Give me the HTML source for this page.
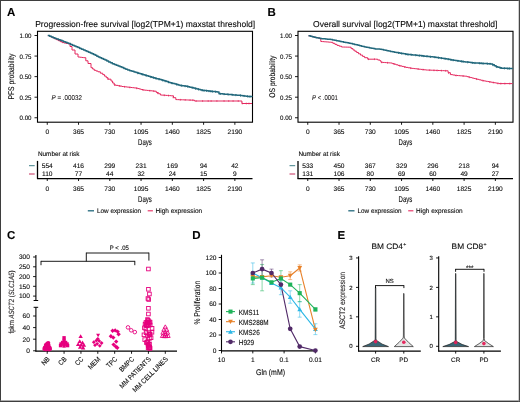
<!DOCTYPE html>
<html><head><meta charset="utf-8"><style>
html,body{margin:0;padding:0;background:#fff;}
body{width:520px;height:402px;overflow:hidden;}
svg{display:block;} text{stroke:#2a2a2a;stroke-width:0.12px;} svg{font-family:"Liberation Sans",sans-serif;will-change:transform;text-rendering:geometricPrecision;}
</style></head><body>
<svg width="520" height="402" viewBox="0 0 520 402">
<rect x="0" y="0" width="520" height="402" fill="#fff"/>
<text transform="translate(7.00 16.30)" font-size="11.5" font-weight="bold" fill="#000" >A</text>
<text transform="translate(35.20 26.90) scale(0.9893 1)" font-size="8.6" >Progression-free survival [log2(TPM+1) maxstat threshold]</text>
<rect x="37.50" y="31.30" width="215.00" height="90.90" fill="none" stroke="#000" stroke-width="1.1"/>
<line x1="34.50" y1="117.75" x2="37.50" y2="117.75" stroke="#000" stroke-width="0.9" />
<text transform="translate(31.50 120.35) scale(0.9486 1)" font-size="6.5" text-anchor="end" >0.00</text>
<line x1="34.50" y1="97.19" x2="37.50" y2="97.19" stroke="#000" stroke-width="0.9" />
<text transform="translate(31.50 99.79) scale(0.9486 1)" font-size="6.5" text-anchor="end" >0.25</text>
<line x1="34.50" y1="76.63" x2="37.50" y2="76.63" stroke="#000" stroke-width="0.9" />
<text transform="translate(31.50 79.23) scale(0.9486 1)" font-size="6.5" text-anchor="end" >0.50</text>
<line x1="34.50" y1="56.07" x2="37.50" y2="56.07" stroke="#000" stroke-width="0.9" />
<text transform="translate(31.50 58.67) scale(0.9486 1)" font-size="6.5" text-anchor="end" >0.75</text>
<line x1="34.50" y1="35.51" x2="37.50" y2="35.51" stroke="#000" stroke-width="0.9" />
<text transform="translate(31.50 38.11) scale(0.9486 1)" font-size="6.5" text-anchor="end" >1.00</text>
<line x1="47.25" y1="122.20" x2="47.25" y2="124.80" stroke="#000" stroke-width="0.9" />
<text transform="translate(47.25 133.60)" font-size="6.6" text-anchor="middle" >0</text>
<line x1="78.52" y1="122.20" x2="78.52" y2="124.80" stroke="#000" stroke-width="0.9" />
<text transform="translate(78.52 133.60)" font-size="6.6" text-anchor="middle" >365</text>
<line x1="109.79" y1="122.20" x2="109.79" y2="124.80" stroke="#000" stroke-width="0.9" />
<text transform="translate(109.79 133.60)" font-size="6.6" text-anchor="middle" >730</text>
<line x1="141.06" y1="122.20" x2="141.06" y2="124.80" stroke="#000" stroke-width="0.9" />
<text transform="translate(141.06 133.60)" font-size="6.6" text-anchor="middle" >1095</text>
<line x1="172.33" y1="122.20" x2="172.33" y2="124.80" stroke="#000" stroke-width="0.9" />
<text transform="translate(172.33 133.60)" font-size="6.6" text-anchor="middle" >1460</text>
<line x1="203.60" y1="122.20" x2="203.60" y2="124.80" stroke="#000" stroke-width="0.9" />
<text transform="translate(203.60 133.60)" font-size="6.6" text-anchor="middle" >1825</text>
<line x1="234.87" y1="122.20" x2="234.87" y2="124.80" stroke="#000" stroke-width="0.9" />
<text transform="translate(234.87 133.60)" font-size="6.6" text-anchor="middle" >2190</text>
<text transform="translate(145.00 145.20) scale(0.7211 1)" font-size="8.4" text-anchor="middle" >Days</text>
<text transform="translate(14.40 76.60) rotate(-90) scale(0.8273 1)" font-size="8.2" text-anchor="middle" >PFS probability</text>
<text x="51.60" y="100" font-size="7" textLength="30.3" lengthAdjust="spacingAndGlyphs" fill="#231f20"><tspan font-style="italic">P</tspan> = .00032</text>
<polyline points="47.80,35.60 49.90,35.60 49.90,36.60 52.00,36.60 52.00,37.60 54.00,37.60 54.00,38.60 56.00,38.60 56.00,39.60 58.00,39.60 58.00,40.60 60.00,40.60 60.00,41.60 62.00,41.60 62.00,42.60 64.00,42.60 64.00,43.00 66.00,43.00 66.00,43.40 68.00,43.40 68.00,43.80 70.00,43.80 70.00,46.50 72.00,46.50 72.00,50.00 75.00,50.00 75.00,54.00 78.00,54.00 78.00,57.00 79.83,57.00 79.83,57.23 81.67,57.23 81.67,57.47 83.50,57.47 83.50,57.70 85.80,57.70 85.80,60.80 88.00,60.80 88.00,63.50 91.00,63.50 91.00,67.70 92.60,67.70 92.60,69.00 94.20,69.00 94.20,70.30 96.10,70.30 96.10,71.05 98.00,71.05 98.00,71.80 100.35,71.80 100.35,73.20 102.70,73.20 102.70,74.60 104.47,74.60 104.47,76.13 106.23,76.13 106.23,77.67 108.00,77.67 108.00,79.20 111.00,79.20 111.00,81.00 112.60,81.00 112.60,83.00 114.20,83.00 114.20,85.00 116.15,85.00 116.15,85.38 118.10,85.38 118.10,85.75 120.05,85.75 120.05,86.12 122.00,86.12 122.00,86.50 123.72,86.50 123.72,86.70 125.45,86.70 125.45,86.90 127.18,86.90 127.18,87.10 128.90,87.10 128.90,87.30 130.62,87.30 130.62,87.50 132.35,87.50 132.35,87.70 134.08,87.70 134.08,87.90 135.80,87.90 135.80,88.10 137.60,88.10 137.60,88.57 139.40,88.57 139.40,89.05 141.20,89.05 141.20,89.53 143.00,89.53 143.00,90.00 144.87,90.00 144.87,90.20 146.73,90.20 146.73,90.40 148.60,90.40 148.60,90.60 150.47,90.60 150.47,90.80 152.33,90.80 152.33,91.00 154.20,91.00 154.20,91.20 156.27,91.20 156.27,92.47 158.33,92.47 158.33,93.73 160.40,93.73 160.40,95.00 162.20,95.00 162.20,95.13 164.00,95.13 164.00,95.27 165.80,95.27 165.80,95.40 167.60,95.40 167.60,95.53 169.40,95.53 169.40,95.67 171.20,95.67 171.20,95.80 173.50,95.80 173.50,97.70 175.80,97.70 175.80,99.60 177.51,99.60 177.51,99.66 179.22,99.66 179.22,99.72 180.93,99.72 180.93,99.78 182.64,99.78 182.64,99.84 184.35,99.84 184.35,99.90 186.06,99.90 186.06,99.96 187.77,99.96 187.77,100.02 189.48,100.02 189.48,100.08 191.19,100.08 191.19,100.14 192.90,100.14 192.90,100.20 194.50,100.20 194.50,101.00 241.90,101.00 241.90,103.50 252.00,103.50" fill="none" stroke="#e4285e" stroke-width="1.0" stroke-linejoin="round" />
<path d="M107.80,78.13v1.80 M114.81,84.22v1.80 M119.67,85.15v1.80 M124.55,85.90v1.80 M129.84,86.51v1.80 M136.61,87.41v1.80 M142.80,89.05v1.80 M149.81,89.83v1.80 M153.75,90.25v1.80 M157.48,92.31v1.80 M164.34,94.39v1.80 M168.50,94.70v1.80 M173.08,96.45v1.80 M180.33,98.86v1.80 M185.15,99.03v1.80 M190.01,99.20v1.80 M192.80,99.30v1.80 M196.12,100.10v1.80 M202.60,100.10v1.80 M208.19,100.10v1.80 M211.14,100.10v1.80 M216.90,100.10v1.80 M224.04,100.10v1.80 M228.72,100.10v1.80 M233.08,100.10v1.80 M238.26,100.10v1.80 M242.29,102.60v1.80 M246.30,102.60v1.80 M248.98,102.60v1.80" stroke="#e4285e" stroke-width="0.7" fill="none"/>
<polyline points="47.80,35.60 49.60,35.60 49.60,36.30 51.40,36.30 51.40,37.00 53.20,37.00 53.20,37.70 55.00,37.70 55.00,38.40 56.75,38.40 56.75,39.05 58.50,39.05 58.50,39.70 60.25,39.70 60.25,40.35 62.00,40.35 62.00,41.00 63.67,41.00 63.67,41.65 65.35,41.65 65.35,42.30 67.03,42.30 67.03,42.95 68.70,42.95 68.70,43.60 70.53,43.60 70.53,44.40 72.35,44.40 72.35,45.20 74.17,45.20 74.17,46.00 76.00,46.00 76.00,46.80 77.88,46.80 77.88,47.60 79.75,47.60 79.75,48.40 81.62,48.40 81.62,49.20 83.50,49.20 83.50,50.00 85.20,50.00 85.20,50.76 86.90,50.76 86.90,51.52 88.60,51.52 88.60,52.28 90.30,52.28 90.30,53.04 92.00,53.04 92.00,53.80 93.60,53.80 93.60,54.58 95.20,54.58 95.20,55.36 96.80,55.36 96.80,56.14 98.40,56.14 98.40,56.92 100.00,56.92 100.00,57.70 101.67,57.70 101.67,58.47 103.33,58.47 103.33,59.23 105.00,59.23 105.00,60.00 106.83,60.00 106.83,60.95 108.65,60.95 108.65,61.90 110.47,61.90 110.47,62.85 112.30,62.85 112.30,63.80 114.22,63.80 114.22,64.55 116.15,64.55 116.15,65.30 118.08,65.30 118.08,66.05 120.00,66.05 120.00,66.80 121.92,66.80 121.92,67.60 123.85,67.60 123.85,68.40 125.78,68.40 125.78,69.20 127.70,69.20 127.70,70.00 129.80,70.00 129.80,70.67 131.90,70.67 131.90,71.33 134.00,71.33 134.00,72.00 136.00,72.00 136.00,72.60 138.00,72.60 138.00,73.20 140.00,73.20 140.00,73.80 141.67,73.80 141.67,74.30 143.33,74.30 143.33,74.80 145.00,74.80 145.00,75.30 146.67,75.30 146.67,75.80 148.33,75.80 148.33,76.30 150.00,76.30 150.00,76.80 151.64,76.80 151.64,77.26 153.29,77.26 153.29,77.71 154.93,77.71 154.93,78.17 156.57,78.17 156.57,78.63 158.21,78.63 158.21,79.09 159.86,79.09 159.86,79.54 161.50,79.54 161.50,80.00 163.20,80.00 163.20,80.54 164.90,80.54 164.90,81.08 166.60,81.08 166.60,81.62 168.30,81.62 168.30,82.16 170.00,82.16 170.00,82.70 171.67,82.70 171.67,83.15 173.33,83.15 173.33,83.60 175.00,83.60 175.00,84.05 176.67,84.05 176.67,84.50 178.33,84.50 178.33,84.95 180.00,84.95 180.00,85.40 182.10,85.40 182.10,85.70 184.20,85.70 184.20,86.00 186.30,86.00 186.30,86.30 188.04,86.30 188.04,86.74 189.78,86.74 189.78,87.18 191.52,87.18 191.52,87.62 193.26,87.62 193.26,88.06 195.00,88.06 195.00,88.50 196.93,88.50 196.93,88.97 198.85,88.97 198.85,89.45 200.77,89.45 200.77,89.93 202.70,89.93 202.70,90.40 204.52,90.40 204.52,90.60 206.35,90.60 206.35,90.80 208.18,90.80 208.18,91.00 210.00,91.00 210.00,91.20 211.85,91.20 211.85,91.40 213.70,91.40 213.70,91.60 215.55,91.60 215.55,91.80 217.40,91.80 217.40,92.00 219.00,92.00 219.00,93.70 220.83,93.70 220.83,93.85 222.67,93.85 222.67,94.00 224.50,94.00 224.50,94.15 226.33,94.15 226.33,94.30 228.17,94.30 228.17,94.45 230.00,94.45 230.00,94.60 231.72,94.60 231.72,94.74 233.44,94.74 233.44,94.88 235.16,94.88 235.16,95.02 236.88,95.02 236.88,95.16 238.60,95.16 238.60,95.30 240.45,95.30 240.45,95.53 242.30,95.53 242.30,95.75 244.15,95.75 244.15,95.97 246.00,95.97 246.00,96.20 248.00,96.20 248.00,96.40 250.00,96.40 250.00,96.60 252.00,96.60 252.00,96.80" fill="none" stroke="#22687c" stroke-width="1.5" stroke-linejoin="round" />
<path d="M137.80,72.04v2.20 M142.27,73.38v2.20 M146.06,74.52v2.20 M150.77,75.91v2.20 M153.33,76.63v2.20 M155.76,77.30v2.20 M158.98,78.20v2.20 M162.55,79.23v2.20 M165.24,80.09v2.20 M168.42,81.10v2.20 M172.15,82.18v2.20 M176.83,83.45v2.20 M181.58,84.53v2.20 M185.17,85.04v2.20 M187.68,85.55v2.20 M192.26,86.71v2.20 M195.50,87.52v2.20 M198.48,88.26v2.20 M202.00,89.13v2.20 M204.08,89.45v2.20 M206.65,89.73v2.20 M208.98,89.99v2.20 M210.77,90.18v2.20 M212.44,90.36v2.20 M215.69,90.72v2.20 M220.30,92.71v2.20 M224.03,93.01v2.20 M227.96,93.33v2.20 M232.26,93.68v2.20 M235.75,93.97v2.20 M240.47,94.43v2.20 M244.00,94.86v2.20 M247.60,95.26v2.20 M249.93,95.49v2.20" stroke="#22687c" stroke-width="0.8" fill="none"/>
<text transform="translate(37.90 155.80) scale(0.9695 1)" font-size="6.6" >Number at risk</text>
<line x1="37.50" y1="160.90" x2="37.50" y2="178.70" stroke="#000" stroke-width="1.3" />
<line x1="37.00" y1="178.70" x2="252.50" y2="178.70" stroke="#000" stroke-width="1.3" />
<line x1="29.00" y1="165.70" x2="34.70" y2="165.70" stroke="#3f8088" stroke-width="1.0" />
<line x1="29.00" y1="174.00" x2="34.70" y2="174.00" stroke="#c42e5c" stroke-width="1.0" />
<text transform="translate(47.25 168.00)" font-size="6.6" text-anchor="middle" >554</text>
<text transform="translate(47.25 176.20)" font-size="6.6" text-anchor="middle" >110</text>
<line x1="47.25" y1="178.70" x2="47.25" y2="181.00" stroke="#000" stroke-width="0.9" />
<text transform="translate(47.25 190.50)" font-size="6.6" text-anchor="middle" >0</text>
<text transform="translate(78.52 168.00)" font-size="6.6" text-anchor="middle" >416</text>
<text transform="translate(78.52 176.20)" font-size="6.6" text-anchor="middle" >77</text>
<line x1="78.52" y1="178.70" x2="78.52" y2="181.00" stroke="#000" stroke-width="0.9" />
<text transform="translate(78.52 190.50)" font-size="6.6" text-anchor="middle" >365</text>
<text transform="translate(109.79 168.00)" font-size="6.6" text-anchor="middle" >299</text>
<text transform="translate(109.79 176.20)" font-size="6.6" text-anchor="middle" >44</text>
<line x1="109.79" y1="178.70" x2="109.79" y2="181.00" stroke="#000" stroke-width="0.9" />
<text transform="translate(109.79 190.50)" font-size="6.6" text-anchor="middle" >730</text>
<text transform="translate(141.06 168.00)" font-size="6.6" text-anchor="middle" >231</text>
<text transform="translate(141.06 176.20)" font-size="6.6" text-anchor="middle" >32</text>
<line x1="141.06" y1="178.70" x2="141.06" y2="181.00" stroke="#000" stroke-width="0.9" />
<text transform="translate(141.06 190.50)" font-size="6.6" text-anchor="middle" >1095</text>
<text transform="translate(172.33 168.00)" font-size="6.6" text-anchor="middle" >169</text>
<text transform="translate(172.33 176.20)" font-size="6.6" text-anchor="middle" >24</text>
<line x1="172.33" y1="178.70" x2="172.33" y2="181.00" stroke="#000" stroke-width="0.9" />
<text transform="translate(172.33 190.50)" font-size="6.6" text-anchor="middle" >1460</text>
<text transform="translate(203.60 168.00)" font-size="6.6" text-anchor="middle" >94</text>
<text transform="translate(203.60 176.20)" font-size="6.6" text-anchor="middle" >15</text>
<line x1="203.60" y1="178.70" x2="203.60" y2="181.00" stroke="#000" stroke-width="0.9" />
<text transform="translate(203.60 190.50)" font-size="6.6" text-anchor="middle" >1825</text>
<text transform="translate(234.87 168.00)" font-size="6.6" text-anchor="middle" >42</text>
<text transform="translate(234.87 176.20)" font-size="6.6" text-anchor="middle" >9</text>
<line x1="234.87" y1="178.70" x2="234.87" y2="181.00" stroke="#000" stroke-width="0.9" />
<text transform="translate(234.87 190.50)" font-size="6.6" text-anchor="middle" >2190</text>
<text transform="translate(145.00 201.80) scale(0.7211 1)" font-size="8.4" text-anchor="middle" >Days</text>
<line x1="87.80" y1="210.80" x2="94.00" y2="210.80" stroke="#22687c" stroke-width="1.3" />
<text transform="translate(97.00 212.80) scale(0.9495 1)" font-size="6.7" >Low expression</text>
<line x1="147.70" y1="210.80" x2="152.90" y2="210.80" stroke="#e4285e" stroke-width="1.1" />
<text transform="translate(155.60 212.90) scale(0.9700 1)" font-size="6.7" >High expression</text>
<text transform="translate(267.50 16.30)" font-size="11.5" font-weight="bold" fill="#000" >B</text>
<text transform="translate(313.00 26.90) scale(0.9917 1)" font-size="8.6" >Overall survival [log2(TPM+1) maxstat threshold]</text>
<rect x="298.00" y="31.30" width="215.00" height="90.90" fill="none" stroke="#000" stroke-width="1.1"/>
<line x1="295.00" y1="117.75" x2="298.00" y2="117.75" stroke="#000" stroke-width="0.9" />
<text transform="translate(292.00 120.35) scale(0.9486 1)" font-size="6.5" text-anchor="end" >0.00</text>
<line x1="295.00" y1="97.19" x2="298.00" y2="97.19" stroke="#000" stroke-width="0.9" />
<text transform="translate(292.00 99.79) scale(0.9486 1)" font-size="6.5" text-anchor="end" >0.25</text>
<line x1="295.00" y1="76.63" x2="298.00" y2="76.63" stroke="#000" stroke-width="0.9" />
<text transform="translate(292.00 79.23) scale(0.9486 1)" font-size="6.5" text-anchor="end" >0.50</text>
<line x1="295.00" y1="56.07" x2="298.00" y2="56.07" stroke="#000" stroke-width="0.9" />
<text transform="translate(292.00 58.67) scale(0.9486 1)" font-size="6.5" text-anchor="end" >0.75</text>
<line x1="295.00" y1="35.51" x2="298.00" y2="35.51" stroke="#000" stroke-width="0.9" />
<text transform="translate(292.00 38.11) scale(0.9486 1)" font-size="6.5" text-anchor="end" >1.00</text>
<line x1="307.75" y1="122.20" x2="307.75" y2="124.80" stroke="#000" stroke-width="0.9" />
<text transform="translate(307.75 133.60)" font-size="6.6" text-anchor="middle" >0</text>
<line x1="339.02" y1="122.20" x2="339.02" y2="124.80" stroke="#000" stroke-width="0.9" />
<text transform="translate(339.02 133.60)" font-size="6.6" text-anchor="middle" >365</text>
<line x1="370.29" y1="122.20" x2="370.29" y2="124.80" stroke="#000" stroke-width="0.9" />
<text transform="translate(370.29 133.60)" font-size="6.6" text-anchor="middle" >730</text>
<line x1="401.56" y1="122.20" x2="401.56" y2="124.80" stroke="#000" stroke-width="0.9" />
<text transform="translate(401.56 133.60)" font-size="6.6" text-anchor="middle" >1095</text>
<line x1="432.83" y1="122.20" x2="432.83" y2="124.80" stroke="#000" stroke-width="0.9" />
<text transform="translate(432.83 133.60)" font-size="6.6" text-anchor="middle" >1460</text>
<line x1="464.10" y1="122.20" x2="464.10" y2="124.80" stroke="#000" stroke-width="0.9" />
<text transform="translate(464.10 133.60)" font-size="6.6" text-anchor="middle" >1825</text>
<line x1="495.37" y1="122.20" x2="495.37" y2="124.80" stroke="#000" stroke-width="0.9" />
<text transform="translate(495.37 133.60)" font-size="6.6" text-anchor="middle" >2190</text>
<text transform="translate(405.50 145.20) scale(0.7211 1)" font-size="8.4" text-anchor="middle" >Days</text>
<text transform="translate(274.80 76.60) rotate(-90) scale(0.8194 1)" font-size="8.2" text-anchor="middle" >OS probability</text>
<text x="312.10" y="100" font-size="7" textLength="25.7" lengthAdjust="spacingAndGlyphs" fill="#231f20"><tspan font-style="italic">P</tspan> &lt; .0001</text>
<polyline points="308.50,35.80 310.33,35.80 310.33,36.27 312.17,36.27 312.17,36.73 314.00,36.73 314.00,37.20 316.00,37.20 316.00,37.63 318.00,37.63 318.00,38.07 320.00,38.07 320.00,38.50 320.80,38.50 320.80,41.50 322.47,41.50 322.47,41.63 324.13,41.63 324.13,41.77 325.80,41.77 325.80,41.90 327.47,41.90 327.47,42.03 329.13,42.03 329.13,42.17 330.80,42.17 330.80,42.30 332.87,42.30 332.87,43.33 334.93,43.33 334.93,44.37 337.00,44.37 337.00,45.40 339.25,45.40 339.25,46.20 341.50,46.20 341.50,47.00 343.43,47.00 343.43,47.05 345.35,47.05 345.35,47.10 347.27,47.10 347.27,47.15 349.20,47.15 349.20,47.20 351.10,47.20 351.10,48.60 353.00,48.60 353.00,50.00 354.83,50.00 354.83,51.27 356.67,51.27 356.67,52.53 358.50,52.53 358.50,53.80 360.53,53.80 360.53,55.10 362.57,55.10 362.57,56.40 364.60,56.40 364.60,57.70 367.70,57.70 367.70,59.20 375.40,59.20 377.70,59.20 377.70,60.00 380.00,60.00 380.00,60.80 381.00,60.80 381.00,62.30 382.88,62.30 382.88,62.44 384.76,62.44 384.76,62.58 386.64,62.58 386.64,62.72 388.52,62.72 388.52,62.86 390.40,62.86 390.40,63.00 392.30,63.00 392.30,63.60 394.20,63.60 394.20,64.20 396.10,64.20 396.10,64.80 398.00,64.80 398.00,65.40 399.95,65.40 399.95,65.90 401.90,65.90 401.90,66.40 403.85,66.40 403.85,66.90 405.80,66.90 405.80,67.40 408.10,67.40 408.10,67.80 410.40,67.80 410.40,68.20 412.11,68.20 412.11,68.40 413.82,68.40 413.82,68.60 415.53,68.60 415.53,68.80 417.24,68.80 417.24,69.00 418.96,69.00 418.96,69.20 420.67,69.20 420.67,69.40 422.38,69.40 422.38,69.60 424.09,69.60 424.09,69.80 425.80,69.80 425.80,70.00 427.47,70.00 427.47,70.07 429.13,70.07 429.13,70.13 430.80,70.13 430.80,70.20 432.47,70.20 432.47,70.27 434.13,70.27 434.13,70.33 435.80,70.33 435.80,70.40 437.47,70.40 437.47,70.47 439.13,70.47 439.13,70.53 440.80,70.53 440.80,70.60 442.47,70.60 442.47,70.67 444.13,70.67 444.13,70.73 445.80,70.73 445.80,70.80 448.10,70.80 448.10,72.70 450.40,72.70 450.40,74.60 452.70,74.60 452.70,75.00 455.00,75.00 455.00,75.40 456.70,75.40 456.70,75.53 458.40,75.53 458.40,75.67 460.10,75.67 460.10,75.80 461.80,75.80 461.80,75.93 463.50,75.93 463.50,76.07 465.20,76.07 465.20,76.20 466.88,76.20 466.88,76.65 468.55,76.65 468.55,77.10 470.22,77.10 470.22,77.55 471.90,77.55 471.90,78.00 473.70,78.00 473.70,78.45 475.50,78.45 475.50,78.90 477.30,78.90 477.30,79.35 479.10,79.35 479.10,79.80 480.90,79.80 480.90,80.25 482.70,80.25 482.70,80.70 484.31,80.70 484.31,80.99 485.92,80.99 485.92,81.28 487.53,81.28 487.53,81.57 489.14,81.57 489.14,81.86 490.75,81.86 490.75,82.15 492.36,82.15 492.36,82.44 493.97,82.44 493.97,82.73 495.58,82.73 495.58,83.02 497.19,83.02 497.19,83.31 498.80,83.31 498.80,83.60 512.50,83.60" fill="none" stroke="#e4285e" stroke-width="1.0" stroke-linejoin="round" />
<path d="M368.50,58.30v1.80 M374.49,58.30v1.80 M381.72,61.45v1.80 M387.56,61.89v1.80 M393.99,63.23v1.80 M399.72,64.94v1.80 M404.75,66.23v1.80 M410.69,67.33v1.80 M418.15,68.21v1.80 M423.06,68.78v1.80 M429.72,69.26v1.80 M433.99,69.43v1.80 M437.13,69.55v1.80 M441.39,69.72v1.80 M445.58,69.89v1.80 M448.65,72.25v1.80 M456.07,74.58v1.80 M463.16,75.14v1.80 M469.27,76.39v1.80 M476.51,78.25v1.80 M483.01,79.86v1.80 M489.78,81.08v1.80 M493.30,81.71v1.80 M497.88,82.53v1.80 M500.82,82.70v1.80 M504.87,82.70v1.80 M509.77,82.70v1.80" stroke="#e4285e" stroke-width="0.7" fill="none"/>
<polyline points="308.50,35.80 310.33,35.80 310.33,36.27 312.17,36.27 312.17,36.73 314.00,36.73 314.00,37.20 316.00,37.20 316.00,37.63 318.00,37.63 318.00,38.07 320.00,38.07 320.00,38.50 321.80,38.50 321.80,38.67 323.60,38.67 323.60,38.83 325.40,38.83 325.40,39.00 327.20,39.00 327.20,39.17 329.00,39.17 329.00,39.33 330.80,39.33 330.80,39.50 332.64,39.50 332.64,39.90 334.48,39.90 334.48,40.30 336.32,40.30 336.32,40.70 338.16,40.70 338.16,41.10 340.00,41.10 340.00,41.50 341.80,41.50 341.80,41.83 343.60,41.83 343.60,42.17 345.40,42.17 345.40,42.50 347.20,42.50 347.20,42.83 349.00,42.83 349.00,43.17 350.80,43.17 350.80,43.50 352.58,43.50 352.58,43.95 354.37,43.95 354.37,44.40 356.15,44.40 356.15,44.85 357.93,44.85 357.93,45.30 359.72,45.30 359.72,45.75 361.50,45.75 361.50,46.20 363.12,46.20 363.12,46.55 364.75,46.55 364.75,46.90 366.38,46.90 366.38,47.25 368.00,47.25 368.00,47.60 369.75,47.60 369.75,47.92 371.50,47.92 371.50,48.25 373.25,48.25 373.25,48.58 375.00,48.58 375.00,48.90 376.67,48.90 376.67,49.00 378.33,49.00 378.33,49.10 380.00,49.10 380.00,49.20 381.73,49.20 381.73,49.58 383.47,49.58 383.47,49.97 385.20,49.97 385.20,50.35 386.93,50.35 386.93,50.73 388.67,50.73 388.67,51.12 390.40,51.12 390.40,51.50 392.30,51.50 392.30,51.83 394.20,51.83 394.20,52.15 396.10,52.15 396.10,52.47 398.00,52.47 398.00,52.80 399.95,52.80 399.95,53.15 401.90,53.15 401.90,53.50 403.85,53.50 403.85,53.85 405.80,53.85 405.80,54.20 407.51,54.20 407.51,54.38 409.22,54.38 409.22,54.56 410.93,54.56 410.93,54.73 412.64,54.73 412.64,54.91 414.36,54.91 414.36,55.09 416.07,55.09 416.07,55.27 417.78,55.27 417.78,55.44 419.49,55.44 419.49,55.62 421.20,55.62 421.20,55.80 422.90,55.80 422.90,55.98 424.60,55.98 424.60,56.16 426.30,56.16 426.30,56.33 428.00,56.33 428.00,56.51 429.70,56.51 429.70,56.69 431.40,56.69 431.40,56.87 433.10,56.87 433.10,57.04 434.80,57.04 434.80,57.22 436.50,57.22 436.50,57.40 438.20,57.40 438.20,57.66 439.90,57.66 439.90,57.92 441.60,57.92 441.60,58.18 443.30,58.18 443.30,58.44 445.00,58.44 445.00,58.70 446.73,58.70 446.73,59.03 448.45,59.03 448.45,59.35 450.17,59.35 450.17,59.67 451.90,59.67 451.90,60.00 453.55,60.00 453.55,60.25 455.20,60.25 455.20,60.50 456.85,60.50 456.85,60.75 458.50,60.75 458.50,61.00 460.18,61.00 460.18,61.23 461.85,61.23 461.85,61.45 463.52,61.45 463.52,61.67 465.20,61.67 465.20,61.90 466.88,61.90 466.88,62.12 468.55,62.12 468.55,62.35 470.22,62.35 470.22,62.57 471.90,62.57 471.90,62.80 473.62,62.80 473.62,62.90 475.34,62.90 475.34,63.00 477.05,63.00 477.05,63.10 478.77,63.10 478.77,63.20 480.49,63.20 480.49,63.30 482.21,63.30 482.21,63.40 483.93,63.40 483.93,63.50 485.65,63.50 485.65,63.60 487.36,63.60 487.36,63.70 489.08,63.70 489.08,63.80 490.80,63.80 490.80,63.90 492.57,63.90 492.57,64.87 494.33,64.87 494.33,65.83 496.10,65.83 496.10,66.80 497.90,66.80 497.90,67.27 499.70,67.27 499.70,67.73 501.50,67.73 501.50,68.20 503.33,68.20 503.33,68.27 505.17,68.27 505.17,68.33 507.00,68.33 507.00,68.40 508.83,68.40 508.83,68.47 510.67,68.47 510.67,68.53 512.50,68.53 512.50,68.60" fill="none" stroke="#22687c" stroke-width="1.5" stroke-linejoin="round" />
<path d="M398.50,51.79v2.20 M401.67,52.36v2.20 M405.89,53.11v2.20 M408.03,53.33v2.20 M411.22,53.66v2.20 M415.76,54.13v2.20 M419.40,54.51v2.20 M421.97,54.78v2.20 M423.70,54.96v2.20 M426.96,55.30v2.20 M430.51,55.67v2.20 M434.95,56.14v2.20 M438.43,56.60v2.20 M441.47,57.06v2.20 M445.14,57.63v2.20 M448.19,58.20v2.20 M451.11,58.75v2.20 M453.17,59.09v2.20 M457.89,59.81v2.20 M461.41,60.29v2.20 M463.05,60.51v2.20 M467.63,61.13v2.20 M472.35,61.73v2.20 M474.97,61.88v2.20 M479.51,62.14v2.20 M481.14,62.24v2.20 M483.13,62.35v2.20 M487.28,62.59v2.20 M489.99,62.75v2.20 M492.90,63.95v2.20 M496.75,65.87v2.20 M500.33,66.80v2.20 M504.41,67.21v2.20 M507.82,67.33v2.20 M509.49,67.39v2.20" stroke="#22687c" stroke-width="0.8" fill="none"/>
<text transform="translate(298.40 155.80) scale(0.9695 1)" font-size="6.6" >Number at risk</text>
<line x1="298.00" y1="160.90" x2="298.00" y2="178.70" stroke="#000" stroke-width="1.3" />
<line x1="297.50" y1="178.70" x2="513.00" y2="178.70" stroke="#000" stroke-width="1.3" />
<line x1="289.50" y1="165.70" x2="295.20" y2="165.70" stroke="#3f8088" stroke-width="1.0" />
<line x1="289.50" y1="174.00" x2="295.20" y2="174.00" stroke="#c42e5c" stroke-width="1.0" />
<text transform="translate(307.75 168.00)" font-size="6.6" text-anchor="middle" >533</text>
<text transform="translate(307.75 176.20)" font-size="6.6" text-anchor="middle" >131</text>
<line x1="307.75" y1="178.70" x2="307.75" y2="181.00" stroke="#000" stroke-width="0.9" />
<text transform="translate(307.75 190.50)" font-size="6.6" text-anchor="middle" >0</text>
<text transform="translate(339.02 168.00)" font-size="6.6" text-anchor="middle" >450</text>
<text transform="translate(339.02 176.20)" font-size="6.6" text-anchor="middle" >106</text>
<line x1="339.02" y1="178.70" x2="339.02" y2="181.00" stroke="#000" stroke-width="0.9" />
<text transform="translate(339.02 190.50)" font-size="6.6" text-anchor="middle" >365</text>
<text transform="translate(370.29 168.00)" font-size="6.6" text-anchor="middle" >367</text>
<text transform="translate(370.29 176.20)" font-size="6.6" text-anchor="middle" >80</text>
<line x1="370.29" y1="178.70" x2="370.29" y2="181.00" stroke="#000" stroke-width="0.9" />
<text transform="translate(370.29 190.50)" font-size="6.6" text-anchor="middle" >730</text>
<text transform="translate(401.56 168.00)" font-size="6.6" text-anchor="middle" >329</text>
<text transform="translate(401.56 176.20)" font-size="6.6" text-anchor="middle" >69</text>
<line x1="401.56" y1="178.70" x2="401.56" y2="181.00" stroke="#000" stroke-width="0.9" />
<text transform="translate(401.56 190.50)" font-size="6.6" text-anchor="middle" >1095</text>
<text transform="translate(432.83 168.00)" font-size="6.6" text-anchor="middle" >296</text>
<text transform="translate(432.83 176.20)" font-size="6.6" text-anchor="middle" >60</text>
<line x1="432.83" y1="178.70" x2="432.83" y2="181.00" stroke="#000" stroke-width="0.9" />
<text transform="translate(432.83 190.50)" font-size="6.6" text-anchor="middle" >1460</text>
<text transform="translate(464.10 168.00)" font-size="6.6" text-anchor="middle" >218</text>
<text transform="translate(464.10 176.20)" font-size="6.6" text-anchor="middle" >49</text>
<line x1="464.10" y1="178.70" x2="464.10" y2="181.00" stroke="#000" stroke-width="0.9" />
<text transform="translate(464.10 190.50)" font-size="6.6" text-anchor="middle" >1825</text>
<text transform="translate(495.37 168.00)" font-size="6.6" text-anchor="middle" >94</text>
<text transform="translate(495.37 176.20)" font-size="6.6" text-anchor="middle" >27</text>
<line x1="495.37" y1="178.70" x2="495.37" y2="181.00" stroke="#000" stroke-width="0.9" />
<text transform="translate(495.37 190.50)" font-size="6.6" text-anchor="middle" >2190</text>
<text transform="translate(405.50 201.80) scale(0.7211 1)" font-size="8.4" text-anchor="middle" >Days</text>
<line x1="348.30" y1="210.80" x2="354.50" y2="210.80" stroke="#22687c" stroke-width="1.3" />
<text transform="translate(357.50 212.80) scale(0.9495 1)" font-size="6.7" >Low expression</text>
<line x1="408.20" y1="210.80" x2="413.40" y2="210.80" stroke="#e4285e" stroke-width="1.1" />
<text transform="translate(416.10 212.90) scale(0.9700 1)" font-size="6.7" >High expression</text>
<text transform="translate(7.00 239.40)" font-size="11.5" font-weight="bold" fill="#000" >C</text>
<line x1="35.90" y1="255.00" x2="35.90" y2="300.50" stroke="#000" stroke-width="1.1" />
<line x1="33.60" y1="300.50" x2="38.20" y2="300.50" stroke="#000" stroke-width="1.0" />
<line x1="33.10" y1="257.00" x2="35.90" y2="257.00" stroke="#000" stroke-width="0.9" />
<text transform="translate(29.90 259.30)" font-size="6.6" text-anchor="end" >300</text>
<line x1="33.10" y1="266.80" x2="35.90" y2="266.80" stroke="#000" stroke-width="0.9" />
<text transform="translate(29.90 269.10)" font-size="6.6" text-anchor="end" >250</text>
<line x1="33.10" y1="276.60" x2="35.90" y2="276.60" stroke="#000" stroke-width="0.9" />
<text transform="translate(29.90 278.90)" font-size="6.6" text-anchor="end" >200</text>
<line x1="33.10" y1="286.30" x2="35.90" y2="286.30" stroke="#000" stroke-width="0.9" />
<text transform="translate(29.90 288.60)" font-size="6.6" text-anchor="end" >150</text>
<line x1="33.10" y1="296.10" x2="35.90" y2="296.10" stroke="#000" stroke-width="0.9" />
<text transform="translate(29.90 298.40)" font-size="6.6" text-anchor="end" >100</text>
<line x1="35.90" y1="307.30" x2="35.90" y2="351.50" stroke="#000" stroke-width="1.1" />
<line x1="33.60" y1="307.30" x2="38.20" y2="307.30" stroke="#000" stroke-width="1.0" />
<line x1="33.10" y1="316.00" x2="35.90" y2="316.00" stroke="#000" stroke-width="0.9" />
<text transform="translate(29.90 318.30)" font-size="6.6" text-anchor="end" >60</text>
<line x1="33.10" y1="327.60" x2="35.90" y2="327.60" stroke="#000" stroke-width="0.9" />
<text transform="translate(29.90 329.90)" font-size="6.6" text-anchor="end" >40</text>
<line x1="33.10" y1="339.20" x2="35.90" y2="339.20" stroke="#000" stroke-width="0.9" />
<text transform="translate(29.90 341.50)" font-size="6.6" text-anchor="end" >20</text>
<line x1="33.10" y1="350.80" x2="35.90" y2="350.80" stroke="#000" stroke-width="0.9" />
<text transform="translate(29.90 353.10)" font-size="6.6" text-anchor="end" >0</text>
<line x1="35.40" y1="351.10" x2="177.00" y2="351.10" stroke="#000" stroke-width="1.4" />
<line x1="47.20" y1="351.10" x2="47.20" y2="353.80" stroke="#000" stroke-width="0.9" />
<text transform="translate(50.20 359.60) rotate(-45) scale(0.8800 1)" font-size="7.0" text-anchor="end" >NB</text>
<line x1="64.07" y1="351.10" x2="64.07" y2="353.80" stroke="#000" stroke-width="0.9" />
<text transform="translate(67.07 359.60) rotate(-45) scale(0.8800 1)" font-size="7.0" text-anchor="end" >CB</text>
<line x1="80.94" y1="351.10" x2="80.94" y2="353.80" stroke="#000" stroke-width="0.9" />
<text transform="translate(83.94 359.60) rotate(-45) scale(0.8800 1)" font-size="7.0" text-anchor="end" >CC</text>
<line x1="97.81" y1="351.10" x2="97.81" y2="353.80" stroke="#000" stroke-width="0.9" />
<text transform="translate(100.81 359.60) rotate(-45) scale(0.8800 1)" font-size="7.0" text-anchor="end" >MEM</text>
<line x1="114.68" y1="351.10" x2="114.68" y2="353.80" stroke="#000" stroke-width="0.9" />
<text transform="translate(117.68 359.60) rotate(-45) scale(0.8800 1)" font-size="7.0" text-anchor="end" >TPC</text>
<line x1="131.55" y1="351.10" x2="131.55" y2="353.80" stroke="#000" stroke-width="0.9" />
<text transform="translate(134.55 359.60) rotate(-45) scale(0.8800 1)" font-size="7.0" text-anchor="end" >BMPC</text>
<line x1="148.42" y1="351.10" x2="148.42" y2="353.80" stroke="#000" stroke-width="0.9" />
<text transform="translate(151.42 359.60) rotate(-45) scale(0.8800 1)" font-size="7.0" text-anchor="end" >MM PATIENTS</text>
<line x1="165.29" y1="351.10" x2="165.29" y2="353.80" stroke="#000" stroke-width="0.9" />
<text transform="translate(168.29 359.60) rotate(-45) scale(0.8800 1)" font-size="7.0" text-anchor="end" >MM CELL LINES</text>
<text x="14.2" y="302" font-size="7.6" text-anchor="middle" textLength="63" lengthAdjust="spacingAndGlyphs" transform="rotate(-90 14.2 302)" fill="#231f20">fpkm <tspan font-style="italic">ASCT2</tspan> (<tspan font-style="italic">SLC1A5</tspan>)</text>
<line x1="41.00" y1="261.30" x2="134.80" y2="261.30" stroke="#000" stroke-width="0.9" />
<line x1="41.00" y1="260.90" x2="41.00" y2="265.20" stroke="#000" stroke-width="0.9" />
<line x1="134.80" y1="260.90" x2="134.80" y2="265.20" stroke="#000" stroke-width="0.9" />
<line x1="86.30" y1="253.00" x2="148.90" y2="253.00" stroke="#000" stroke-width="0.9" />
<line x1="86.30" y1="252.60" x2="86.30" y2="261.30" stroke="#000" stroke-width="0.9" />
<line x1="148.90" y1="252.60" x2="148.90" y2="260.60" stroke="#000" stroke-width="0.9" />
<text transform="translate(119.30 250.20) scale(0.9340 1)" font-size="6.4" text-anchor="middle" >P &lt; .05</text>
<circle cx="44.70" cy="347.50" r="1.9" fill="#e6007e"/>
<circle cx="47.20" cy="348.00" r="1.9" fill="#e6007e"/>
<circle cx="49.70" cy="347.50" r="1.9" fill="#e6007e"/>
<circle cx="45.70" cy="345.00" r="1.9" fill="#e6007e"/>
<circle cx="48.70" cy="345.00" r="1.9" fill="#e6007e"/>
<circle cx="47.20" cy="343.50" r="1.9" fill="#e6007e"/>
<circle cx="44.20" cy="349.00" r="1.9" fill="#e6007e"/>
<circle cx="50.20" cy="349.00" r="1.9" fill="#e6007e"/>
<circle cx="47.70" cy="346.50" r="1.9" fill="#e6007e"/>
<circle cx="46.20" cy="349.50" r="1.9" fill="#e6007e"/>
<circle cx="49.20" cy="349.50" r="1.9" fill="#e6007e"/>
<circle cx="48.40" cy="342.80" r="1.9" fill="#e6007e"/>
<rect x="62.37" y="336.10" width="3.4" height="3.4" fill="#e6007e"/>
<rect x="62.37" y="338.80" width="3.4" height="3.4" fill="#e6007e"/>
<rect x="59.37" y="342.30" width="3.4" height="3.4" fill="#e6007e"/>
<rect x="62.37" y="342.30" width="3.4" height="3.4" fill="#e6007e"/>
<rect x="65.37" y="342.30" width="3.4" height="3.4" fill="#e6007e"/>
<rect x="58.87" y="343.90" width="3.4" height="3.4" fill="#e6007e"/>
<rect x="65.87" y="343.90" width="3.4" height="3.4" fill="#e6007e"/>
<rect x="62.37" y="344.30" width="3.4" height="3.4" fill="#e6007e"/>
<rect x="60.87" y="340.80" width="3.4" height="3.4" fill="#e6007e"/>
<rect x="63.87" y="340.80" width="3.4" height="3.4" fill="#e6007e"/>
<polygon points="78.44,338.11 82.84,338.11 80.64,334.29" fill="#e6007e"/>
<polygon points="77.54,343.11 81.94,343.11 79.74,339.29" fill="#e6007e"/>
<polygon points="80.34,344.41 84.74,344.41 82.54,340.59" fill="#e6007e"/>
<polygon points="75.94,346.11 80.34,346.11 78.14,342.29" fill="#e6007e"/>
<polygon points="78.94,346.51 83.34,346.51 81.14,342.69" fill="#e6007e"/>
<polygon points="81.74,346.71 86.14,346.71 83.94,342.89" fill="#e6007e"/>
<polygon points="77.94,348.71 82.34,348.71 80.14,344.89" fill="#e6007e"/>
<polygon points="80.94,349.41 85.34,349.41 83.14,345.59" fill="#e6007e"/>
<polygon points="96.11,333.86 100.11,333.86 98.11,337.34" fill="#e6007e"/>
<polygon points="93.80,340.30 95.70,342.20 93.80,344.10 91.90,342.20" fill="#e6007e"/>
<polygon points="96.30,338.70 98.20,340.60 96.30,342.50 94.40,340.60" fill="#e6007e"/>
<polygon points="99.20,339.10 101.10,341.00 99.20,342.90 97.30,341.00" fill="#e6007e"/>
<polygon points="101.60,341.10 103.50,343.00 101.60,344.90 99.70,343.00" fill="#e6007e"/>
<polygon points="97.20,341.90 99.10,343.80 97.20,345.70 95.30,343.80" fill="#e6007e"/>
<polygon points="95.00,343.30 96.90,345.20 95.00,347.10 93.10,345.20" fill="#e6007e"/>
<polygon points="99.80,343.90 101.70,345.80 99.80,347.70 97.90,345.80" fill="#e6007e"/>
<polygon points="97.80,336.90 99.70,338.80 97.80,340.70 95.90,338.80" fill="#e6007e"/>
<polygon points="112.60,328.60 114.80,330.80 112.60,333.00 110.40,330.80" fill="#e6007e"/>
<polygon points="115.20,328.20 117.40,330.40 115.20,332.60 113.00,330.40" fill="#e6007e"/>
<polygon points="117.60,329.40 119.80,331.60 117.60,333.80 115.40,331.60" fill="#e6007e"/>
<polygon points="118.60,332.00 120.80,334.20 118.60,336.40 116.40,334.20" fill="#e6007e"/>
<polygon points="110.90,334.00 113.10,336.20 110.90,338.40 108.70,336.20" fill="#e6007e"/>
<polygon points="113.30,335.40 115.50,337.60 113.30,339.80 111.10,337.60" fill="#e6007e"/>
<polygon points="116.20,339.40 118.40,341.60 116.20,343.80 114.00,341.60" fill="#e6007e"/>
<polygon points="113.60,342.40 115.80,344.60 113.60,346.80 111.40,344.60" fill="#e6007e"/>
<polygon points="115.80,344.40 118.00,346.60 115.80,348.80 113.60,346.60" fill="#e6007e"/>
<polygon points="117.30,345.60 119.50,347.80 117.30,350.00 115.10,347.80" fill="#e6007e"/>
<circle cx="128.00" cy="327.40" r="1.8" fill="none" stroke="#e6007e" stroke-width="0.9"/>
<circle cx="131.20" cy="330.30" r="1.8" fill="none" stroke="#e6007e" stroke-width="0.9"/>
<circle cx="134.80" cy="332.10" r="1.8" fill="none" stroke="#e6007e" stroke-width="0.9"/>
<rect x="146.62" y="267.20" width="3.6" height="3.6" fill="none" stroke="#e6007e" stroke-width="0.9"/>
<rect x="146.62" y="287.50" width="3.6" height="3.6" fill="none" stroke="#e6007e" stroke-width="0.9"/>
<rect x="147.62" y="292.20" width="3.6" height="3.6" fill="none" stroke="#e6007e" stroke-width="0.9"/>
<rect x="146.12" y="296.70" width="3.6" height="3.6" fill="none" stroke="#e6007e" stroke-width="0.9"/>
<rect x="146.92" y="297.70" width="3.6" height="3.6" fill="none" stroke="#e6007e" stroke-width="0.9"/>
<rect x="146.62" y="306.50" width="3.6" height="3.6" fill="none" stroke="#e6007e" stroke-width="0.9"/>
<rect x="146.62" y="312.20" width="3.6" height="3.6" fill="none" stroke="#e6007e" stroke-width="0.9"/>
<rect x="147.24" y="330.82" width="3.6" height="3.6" fill="none" stroke="#e6007e" stroke-width="0.9"/>
<rect x="146.51" y="344.50" width="3.6" height="3.6" fill="none" stroke="#e6007e" stroke-width="0.9"/>
<rect x="147.52" y="332.43" width="3.6" height="3.6" fill="none" stroke="#e6007e" stroke-width="0.9"/>
<rect x="146.71" y="323.06" width="3.6" height="3.6" fill="none" stroke="#e6007e" stroke-width="0.9"/>
<rect x="149.29" y="335.97" width="3.6" height="3.6" fill="none" stroke="#e6007e" stroke-width="0.9"/>
<rect x="145.54" y="320.43" width="3.6" height="3.6" fill="none" stroke="#e6007e" stroke-width="0.9"/>
<rect x="148.30" y="320.33" width="3.6" height="3.6" fill="none" stroke="#e6007e" stroke-width="0.9"/>
<rect x="142.92" y="337.81" width="3.6" height="3.6" fill="none" stroke="#e6007e" stroke-width="0.9"/>
<rect x="148.11" y="346.18" width="3.6" height="3.6" fill="none" stroke="#e6007e" stroke-width="0.9"/>
<rect x="147.63" y="336.66" width="3.6" height="3.6" fill="none" stroke="#e6007e" stroke-width="0.9"/>
<rect x="143.26" y="322.27" width="3.6" height="3.6" fill="none" stroke="#e6007e" stroke-width="0.9"/>
<rect x="142.14" y="333.02" width="3.6" height="3.6" fill="none" stroke="#e6007e" stroke-width="0.9"/>
<rect x="144.66" y="323.22" width="3.6" height="3.6" fill="none" stroke="#e6007e" stroke-width="0.9"/>
<rect x="146.48" y="318.57" width="3.6" height="3.6" fill="none" stroke="#e6007e" stroke-width="0.9"/>
<rect x="150.18" y="330.48" width="3.6" height="3.6" fill="none" stroke="#e6007e" stroke-width="0.9"/>
<rect x="148.05" y="332.75" width="3.6" height="3.6" fill="none" stroke="#e6007e" stroke-width="0.9"/>
<rect x="148.30" y="332.19" width="3.6" height="3.6" fill="none" stroke="#e6007e" stroke-width="0.9"/>
<rect x="144.31" y="330.96" width="3.6" height="3.6" fill="none" stroke="#e6007e" stroke-width="0.9"/>
<rect x="148.21" y="346.63" width="3.6" height="3.6" fill="none" stroke="#e6007e" stroke-width="0.9"/>
<rect x="147.64" y="342.07" width="3.6" height="3.6" fill="none" stroke="#e6007e" stroke-width="0.9"/>
<rect x="144.03" y="326.84" width="3.6" height="3.6" fill="none" stroke="#e6007e" stroke-width="0.9"/>
<rect x="142.64" y="326.08" width="3.6" height="3.6" fill="none" stroke="#e6007e" stroke-width="0.9"/>
<rect x="145.96" y="339.92" width="3.6" height="3.6" fill="none" stroke="#e6007e" stroke-width="0.9"/>
<rect x="146.08" y="342.25" width="3.6" height="3.6" fill="none" stroke="#e6007e" stroke-width="0.9"/>
<rect x="147.73" y="345.48" width="3.6" height="3.6" fill="none" stroke="#e6007e" stroke-width="0.9"/>
<rect x="145.69" y="317.72" width="3.6" height="3.6" fill="none" stroke="#e6007e" stroke-width="0.9"/>
<rect x="146.52" y="344.10" width="3.6" height="3.6" fill="none" stroke="#e6007e" stroke-width="0.9"/>
<rect x="146.29" y="346.13" width="3.6" height="3.6" fill="none" stroke="#e6007e" stroke-width="0.9"/>
<rect x="147.27" y="319.82" width="3.6" height="3.6" fill="none" stroke="#e6007e" stroke-width="0.9"/>
<rect x="145.16" y="340.28" width="3.6" height="3.6" fill="none" stroke="#e6007e" stroke-width="0.9"/>
<rect x="145.73" y="320.23" width="3.6" height="3.6" fill="none" stroke="#e6007e" stroke-width="0.9"/>
<rect x="147.45" y="345.66" width="3.6" height="3.6" fill="none" stroke="#e6007e" stroke-width="0.9"/>
<rect x="145.08" y="321.12" width="3.6" height="3.6" fill="none" stroke="#e6007e" stroke-width="0.9"/>
<rect x="144.13" y="320.63" width="3.6" height="3.6" fill="none" stroke="#e6007e" stroke-width="0.9"/>
<rect x="144.71" y="340.81" width="3.6" height="3.6" fill="none" stroke="#e6007e" stroke-width="0.9"/>
<rect x="146.10" y="333.92" width="3.6" height="3.6" fill="none" stroke="#e6007e" stroke-width="0.9"/>
<rect x="148.38" y="323.23" width="3.6" height="3.6" fill="none" stroke="#e6007e" stroke-width="0.9"/>
<rect x="147.53" y="321.50" width="3.6" height="3.6" fill="none" stroke="#e6007e" stroke-width="0.9"/>
<rect x="146.14" y="321.08" width="3.6" height="3.6" fill="none" stroke="#e6007e" stroke-width="0.9"/>
<rect x="144.77" y="323.87" width="3.6" height="3.6" fill="none" stroke="#e6007e" stroke-width="0.9"/>
<rect x="147.59" y="345.86" width="3.6" height="3.6" fill="none" stroke="#e6007e" stroke-width="0.9"/>
<rect x="150.26" y="326.52" width="3.6" height="3.6" fill="none" stroke="#e6007e" stroke-width="0.9"/>
<rect x="145.78" y="323.81" width="3.6" height="3.6" fill="none" stroke="#e6007e" stroke-width="0.9"/>
<rect x="147.27" y="342.48" width="3.6" height="3.6" fill="none" stroke="#e6007e" stroke-width="0.9"/>
<polygon points="163.39,328.15 167.19,328.15 165.29,324.85" fill="none" stroke="#e6007e" stroke-width="0.9"/>
<polygon points="161.89,331.15 165.69,331.15 163.79,327.85" fill="none" stroke="#e6007e" stroke-width="0.9"/>
<polygon points="164.89,331.15 168.69,331.15 166.79,327.85" fill="none" stroke="#e6007e" stroke-width="0.9"/>
<polygon points="160.89,334.15 164.69,334.15 162.79,330.85" fill="none" stroke="#e6007e" stroke-width="0.9"/>
<polygon points="163.39,333.65 167.19,333.65 165.29,330.35" fill="none" stroke="#e6007e" stroke-width="0.9"/>
<polygon points="165.89,334.15 169.69,334.15 167.79,330.85" fill="none" stroke="#e6007e" stroke-width="0.9"/>
<polygon points="160.39,337.45 164.19,337.45 162.29,334.15" fill="none" stroke="#e6007e" stroke-width="0.9"/>
<polygon points="162.39,337.65 166.19,337.65 164.29,334.35" fill="none" stroke="#e6007e" stroke-width="0.9"/>
<polygon points="164.39,337.65 168.19,337.65 166.29,334.35" fill="none" stroke="#e6007e" stroke-width="0.9"/>
<polygon points="166.39,337.45 170.19,337.45 168.29,334.15" fill="none" stroke="#e6007e" stroke-width="0.9"/>
<polygon points="163.39,335.65 167.19,335.65 165.29,332.35" fill="none" stroke="#e6007e" stroke-width="0.9"/>
<text transform="translate(192.30 239.00)" font-size="11.5" font-weight="bold" fill="#000" >D</text>
<line x1="221.50" y1="254.80" x2="221.50" y2="351.30" stroke="#000" stroke-width="1.1" />
<line x1="218.70" y1="350.50" x2="221.50" y2="350.50" stroke="#000" stroke-width="0.9" />
<text transform="translate(216.50 352.70)" font-size="6.6" text-anchor="end" >0</text>
<line x1="218.70" y1="335.00" x2="221.50" y2="335.00" stroke="#000" stroke-width="0.9" />
<text transform="translate(216.50 337.20)" font-size="6.6" text-anchor="end" >20</text>
<line x1="218.70" y1="319.50" x2="221.50" y2="319.50" stroke="#000" stroke-width="0.9" />
<text transform="translate(216.50 321.70)" font-size="6.6" text-anchor="end" >40</text>
<line x1="218.70" y1="304.00" x2="221.50" y2="304.00" stroke="#000" stroke-width="0.9" />
<text transform="translate(216.50 306.20)" font-size="6.6" text-anchor="end" >60</text>
<line x1="218.70" y1="288.50" x2="221.50" y2="288.50" stroke="#000" stroke-width="0.9" />
<text transform="translate(216.50 290.70)" font-size="6.6" text-anchor="end" >80</text>
<line x1="218.70" y1="273.00" x2="221.50" y2="273.00" stroke="#000" stroke-width="0.9" />
<text transform="translate(216.50 275.20)" font-size="6.6" text-anchor="end" >100</text>
<line x1="218.70" y1="257.50" x2="221.50" y2="257.50" stroke="#000" stroke-width="0.9" />
<text transform="translate(216.50 259.70)" font-size="6.6" text-anchor="end" >120</text>
<line x1="221.00" y1="350.90" x2="316.20" y2="350.90" stroke="#000" stroke-width="1.2" />
<line x1="221.50" y1="350.90" x2="221.50" y2="353.40" stroke="#000" stroke-width="0.9" />
<text transform="translate(221.50 362.20)" font-size="6.6" text-anchor="middle" >10</text>
<line x1="252.80" y1="350.90" x2="252.80" y2="353.40" stroke="#000" stroke-width="0.9" />
<text transform="translate(252.80 362.20)" font-size="6.6" text-anchor="middle" >1</text>
<line x1="284.10" y1="350.90" x2="284.10" y2="353.40" stroke="#000" stroke-width="0.9" />
<text transform="translate(284.10 362.20)" font-size="6.6" text-anchor="middle" >0.1</text>
<line x1="315.40" y1="350.90" x2="315.40" y2="353.40" stroke="#000" stroke-width="0.9" />
<text transform="translate(315.40 362.20)" font-size="6.6" text-anchor="middle" >0.01</text>
<text transform="translate(270.50 375.00) scale(0.8490 1)" font-size="8.2" text-anchor="middle" >Gln (mM)</text>
<text transform="translate(199.60 302.60) rotate(-90) scale(0.8055 1)" font-size="8.4" text-anchor="middle" >% Proliferation</text>
<line x1="252.80" y1="262.93" x2="252.80" y2="283.07" stroke="#2cb7e6" stroke-width="0.8" stroke-opacity="0.65"/>
<line x1="250.80" y1="262.93" x2="254.80" y2="262.93" stroke="#2cb7e6" stroke-width="0.8" stroke-opacity="0.65"/>
<line x1="250.80" y1="283.07" x2="254.80" y2="283.07" stroke="#2cb7e6" stroke-width="0.8" stroke-opacity="0.65"/>
<line x1="290.20" y1="290.82" x2="290.20" y2="303.23" stroke="#2cb7e6" stroke-width="0.8" stroke-opacity="0.65"/>
<line x1="288.20" y1="290.82" x2="292.20" y2="290.82" stroke="#2cb7e6" stroke-width="0.8" stroke-opacity="0.65"/>
<line x1="288.20" y1="303.23" x2="292.20" y2="303.23" stroke="#2cb7e6" stroke-width="0.8" stroke-opacity="0.65"/>
<line x1="299.70" y1="301.68" x2="299.70" y2="317.18" stroke="#2cb7e6" stroke-width="0.8" stroke-opacity="0.65"/>
<line x1="297.70" y1="301.68" x2="301.70" y2="301.68" stroke="#2cb7e6" stroke-width="0.8" stroke-opacity="0.65"/>
<line x1="297.70" y1="317.18" x2="301.70" y2="317.18" stroke="#2cb7e6" stroke-width="0.8" stroke-opacity="0.65"/>
<line x1="315.40" y1="323.76" x2="315.40" y2="334.61" stroke="#2cb7e6" stroke-width="0.8" stroke-opacity="0.65"/>
<line x1="313.40" y1="323.76" x2="317.40" y2="323.76" stroke="#2cb7e6" stroke-width="0.8" stroke-opacity="0.65"/>
<line x1="313.40" y1="334.61" x2="317.40" y2="334.61" stroke="#2cb7e6" stroke-width="0.8" stroke-opacity="0.65"/>
<line x1="280.90" y1="280.75" x2="280.90" y2="294.70" stroke="#2cb7e6" stroke-width="0.8" stroke-opacity="0.65"/>
<line x1="278.90" y1="280.75" x2="282.90" y2="280.75" stroke="#2cb7e6" stroke-width="0.8" stroke-opacity="0.65"/>
<line x1="278.90" y1="294.70" x2="282.90" y2="294.70" stroke="#2cb7e6" stroke-width="0.8" stroke-opacity="0.65"/>
<line x1="262.10" y1="264.48" x2="262.10" y2="290.82" stroke="#1fb35a" stroke-width="0.8" stroke-opacity="0.65"/>
<line x1="260.10" y1="264.48" x2="264.10" y2="264.48" stroke="#1fb35a" stroke-width="0.8" stroke-opacity="0.65"/>
<line x1="260.10" y1="290.82" x2="264.10" y2="290.82" stroke="#1fb35a" stroke-width="0.8" stroke-opacity="0.65"/>
<line x1="280.90" y1="270.68" x2="280.90" y2="286.18" stroke="#1fb35a" stroke-width="0.8" stroke-opacity="0.65"/>
<line x1="278.90" y1="270.68" x2="282.90" y2="270.68" stroke="#1fb35a" stroke-width="0.8" stroke-opacity="0.65"/>
<line x1="278.90" y1="286.18" x2="282.90" y2="286.18" stroke="#1fb35a" stroke-width="0.8" stroke-opacity="0.65"/>
<line x1="299.70" y1="284.62" x2="299.70" y2="301.68" stroke="#1fb35a" stroke-width="0.8" stroke-opacity="0.65"/>
<line x1="297.70" y1="284.62" x2="301.70" y2="284.62" stroke="#1fb35a" stroke-width="0.8" stroke-opacity="0.65"/>
<line x1="297.70" y1="301.68" x2="301.70" y2="301.68" stroke="#1fb35a" stroke-width="0.8" stroke-opacity="0.65"/>
<line x1="252.80" y1="272.23" x2="252.80" y2="284.62" stroke="#1fb35a" stroke-width="0.8" stroke-opacity="0.65"/>
<line x1="250.80" y1="272.23" x2="254.80" y2="272.23" stroke="#1fb35a" stroke-width="0.8" stroke-opacity="0.65"/>
<line x1="250.80" y1="284.62" x2="254.80" y2="284.62" stroke="#1fb35a" stroke-width="0.8" stroke-opacity="0.65"/>
<line x1="315.40" y1="307.88" x2="315.40" y2="310.98" stroke="#1fb35a" stroke-width="0.8" stroke-opacity="0.65"/>
<line x1="313.40" y1="307.88" x2="317.40" y2="307.88" stroke="#1fb35a" stroke-width="0.8" stroke-opacity="0.65"/>
<line x1="313.40" y1="310.98" x2="317.40" y2="310.98" stroke="#1fb35a" stroke-width="0.8" stroke-opacity="0.65"/>
<line x1="290.20" y1="271.84" x2="290.20" y2="279.59" stroke="#e8822a" stroke-width="0.8" stroke-opacity="0.65"/>
<line x1="288.20" y1="271.84" x2="292.20" y2="271.84" stroke="#e8822a" stroke-width="0.8" stroke-opacity="0.65"/>
<line x1="288.20" y1="279.59" x2="292.20" y2="279.59" stroke="#e8822a" stroke-width="0.8" stroke-opacity="0.65"/>
<line x1="299.70" y1="264.86" x2="299.70" y2="271.06" stroke="#e8822a" stroke-width="0.8" stroke-opacity="0.65"/>
<line x1="297.70" y1="264.86" x2="301.70" y2="264.86" stroke="#e8822a" stroke-width="0.8" stroke-opacity="0.65"/>
<line x1="297.70" y1="271.06" x2="301.70" y2="271.06" stroke="#e8822a" stroke-width="0.8" stroke-opacity="0.65"/>
<line x1="262.10" y1="259.82" x2="262.10" y2="278.43" stroke="#512a68" stroke-width="0.8" stroke-opacity="0.65"/>
<line x1="260.10" y1="259.82" x2="264.10" y2="259.82" stroke="#512a68" stroke-width="0.8" stroke-opacity="0.65"/>
<line x1="260.10" y1="278.43" x2="264.10" y2="278.43" stroke="#512a68" stroke-width="0.8" stroke-opacity="0.65"/>
<line x1="271.50" y1="269.12" x2="271.50" y2="276.88" stroke="#512a68" stroke-width="0.8" stroke-opacity="0.65"/>
<line x1="269.50" y1="269.12" x2="273.50" y2="269.12" stroke="#512a68" stroke-width="0.8" stroke-opacity="0.65"/>
<line x1="269.50" y1="276.88" x2="273.50" y2="276.88" stroke="#512a68" stroke-width="0.8" stroke-opacity="0.65"/>
<polyline points="252.80,276.88 262.10,276.88 271.50,275.71 280.90,277.26 290.20,275.71 299.70,267.96 315.40,329.57" fill="none" stroke="#e8822a" stroke-width="1.1" stroke-linejoin="round" />
<polyline points="252.80,273.00 262.10,277.65 271.50,283.07 280.90,287.73 290.20,297.02 299.70,309.43 315.40,329.19" fill="none" stroke="#2cb7e6" stroke-width="1.1" stroke-linejoin="round" />
<polyline points="252.80,278.43 262.10,277.65 271.50,282.30 280.90,278.43 290.20,284.62 299.70,293.15 315.40,309.43" fill="none" stroke="#1fb35a" stroke-width="1.1" stroke-linejoin="round" />
<polyline points="252.80,273.00 262.10,269.12 271.50,273.00 280.90,284.62 290.20,328.80 299.70,346.62 315.40,350.50" fill="none" stroke="#512a68" stroke-width="1.1" stroke-linejoin="round" />
<polygon points="250.40,274.90 255.20,274.90 252.80,270.70" fill="#2cb7e6"/>
<polygon points="259.70,279.55 264.50,279.55 262.10,275.35" fill="#2cb7e6"/>
<polygon points="269.10,284.97 273.90,284.97 271.50,280.77" fill="#2cb7e6"/>
<polygon points="278.50,289.62 283.30,289.62 280.90,285.43" fill="#2cb7e6"/>
<polygon points="287.80,298.92 292.60,298.92 290.20,294.72" fill="#2cb7e6"/>
<polygon points="297.30,311.32 302.10,311.32 299.70,307.12" fill="#2cb7e6"/>
<polygon points="313.00,331.09 317.80,331.09 315.40,326.89" fill="#2cb7e6"/>
<polygon points="250.40,274.98 255.20,274.98 252.80,279.18" fill="#e8822a"/>
<polygon points="259.70,274.98 264.50,274.98 262.10,279.18" fill="#e8822a"/>
<polygon points="269.10,273.81 273.90,273.81 271.50,278.01" fill="#e8822a"/>
<polygon points="278.50,275.36 283.30,275.36 280.90,279.56" fill="#e8822a"/>
<polygon points="287.80,273.81 292.60,273.81 290.20,278.01" fill="#e8822a"/>
<polygon points="297.30,266.06 302.10,266.06 299.70,270.26" fill="#e8822a"/>
<polygon points="313.00,327.68 317.80,327.68 315.40,331.88" fill="#e8822a"/>
<rect x="250.75" y="276.38" width="4.1" height="4.1" fill="#1fb35a"/>
<rect x="260.05" y="275.60" width="4.1" height="4.1" fill="#1fb35a"/>
<rect x="269.45" y="280.25" width="4.1" height="4.1" fill="#1fb35a"/>
<rect x="278.85" y="276.38" width="4.1" height="4.1" fill="#1fb35a"/>
<rect x="288.15" y="282.57" width="4.1" height="4.1" fill="#1fb35a"/>
<rect x="297.65" y="291.10" width="4.1" height="4.1" fill="#1fb35a"/>
<rect x="313.35" y="307.38" width="4.1" height="4.1" fill="#1fb35a"/>
<circle cx="252.80" cy="273.00" r="2.35" fill="#512a68"/>
<circle cx="262.10" cy="269.12" r="2.35" fill="#512a68"/>
<circle cx="271.50" cy="273.00" r="2.35" fill="#512a68"/>
<circle cx="280.90" cy="284.62" r="2.35" fill="#512a68"/>
<circle cx="290.20" cy="328.80" r="2.35" fill="#512a68"/>
<circle cx="299.70" cy="346.62" r="2.35" fill="#512a68"/>
<circle cx="315.40" cy="350.50" r="2.35" fill="#512a68"/>
<line x1="226.00" y1="311.60" x2="235.00" y2="311.60" stroke="#1fb35a" stroke-width="1.1" />
<rect x="228.45" y="309.55" width="4.1" height="4.1" fill="#1fb35a"/>
<text transform="translate(238.80 314.50) scale(0.8601 1)" font-size="7.4" >KMS11</text>
<line x1="226.00" y1="321.67" x2="235.00" y2="321.67" stroke="#e8822a" stroke-width="1.1" />
<polygon points="228.10,319.77 232.90,319.77 230.50,323.97" fill="#e8822a"/>
<text transform="translate(238.80 324.57) scale(0.8626 1)" font-size="7.4" >KMS288M</text>
<line x1="226.00" y1="331.74" x2="235.00" y2="331.74" stroke="#2cb7e6" stroke-width="1.1" />
<polygon points="228.10,333.64 232.90,333.64 230.50,329.44" fill="#2cb7e6"/>
<text transform="translate(238.80 334.64) scale(0.8613 1)" font-size="7.4" >KMS26</text>
<line x1="226.00" y1="341.81" x2="235.00" y2="341.81" stroke="#512a68" stroke-width="1.1" />
<circle cx="230.50" cy="341.81" r="2.35" fill="#512a68"/>
<text transform="translate(238.80 344.71) scale(0.8706 1)" font-size="7.4" >H929</text>
<text transform="translate(337.50 238.70)" font-size="11.5" font-weight="bold" fill="#000" >E</text>
<line x1="358.60" y1="256.20" x2="358.60" y2="351.60" stroke="#000" stroke-width="1.1" />
<line x1="356.00" y1="346.30" x2="358.60" y2="346.30" stroke="#000" stroke-width="0.9" />
<text transform="translate(352.70 348.40)" font-size="6.0" text-anchor="end" >0</text>
<line x1="356.00" y1="316.85" x2="358.60" y2="316.85" stroke="#000" stroke-width="0.9" />
<text transform="translate(352.70 318.95)" font-size="6.0" text-anchor="end" >1</text>
<line x1="356.00" y1="287.40" x2="358.60" y2="287.40" stroke="#000" stroke-width="0.9" />
<text transform="translate(352.70 289.50)" font-size="6.0" text-anchor="end" >2</text>
<line x1="356.00" y1="257.95" x2="358.60" y2="257.95" stroke="#000" stroke-width="0.9" />
<text transform="translate(352.70 260.05)" font-size="6.0" text-anchor="end" >3</text>
<line x1="358.10" y1="351.20" x2="420.80" y2="351.20" stroke="#000" stroke-width="1.3" />
<line x1="375.60" y1="351.20" x2="375.60" y2="353.60" stroke="#000" stroke-width="0.9" />
<text transform="translate(375.60 362.20)" font-size="6.4" text-anchor="middle" >CR</text>
<line x1="403.80" y1="351.20" x2="403.80" y2="353.60" stroke="#000" stroke-width="0.9" />
<text transform="translate(403.80 362.20)" font-size="6.4" text-anchor="middle" >PD</text>
<text transform="translate(371.50 249.00) scale(1.0553 1)" font-size="7.9" >BM CD4</text>
<text transform="translate(403.30 246.40)" font-size="5.2" >+</text>
<path d="M362.70,346.60 Q369.15,344.81 375.00,340.20 L375.20,338.20 L375.40,287.50 L375.80,287.50 L376.00,338.20 L376.20,340.20 Q382.05,344.81 388.50,346.60 Z" fill="#3a6676" stroke="#222" stroke-width="0.7" stroke-linejoin="round"/>
<path d="M394.30,346.60 Q399.05,342.73 403.20,338.00 L403.40,336.00 L403.60,293.50 L404.00,293.50 L404.20,336.00 L404.40,338.00 Q408.55,342.73 413.30,346.60 Z" fill="#e4e4e4" stroke="#222" stroke-width="0.7" stroke-linejoin="round"/>
<circle cx="375.60" cy="341.60" r="1.8" fill="#d8245a"/>
<circle cx="403.80" cy="342.30" r="1.8" fill="#e4285e"/>
<line x1="375.50" y1="285.60" x2="403.90" y2="285.60" stroke="#000" stroke-width="0.9" />
<line x1="375.50" y1="285.20" x2="375.50" y2="288.10" stroke="#000" stroke-width="0.9" />
<line x1="403.90" y1="285.20" x2="403.90" y2="288.10" stroke="#000" stroke-width="0.9" />
<text transform="translate(389.70 282.90)" font-size="6.0" text-anchor="middle" >NS</text>
<text x="345.00" y="300.5" font-size="8" text-anchor="middle" textLength="57" lengthAdjust="spacingAndGlyphs" transform="rotate(-90 345 300.5)" fill="#231f20">ASCT2 expression</text>
<line x1="438.70" y1="256.20" x2="438.70" y2="351.60" stroke="#000" stroke-width="1.1" />
<line x1="436.10" y1="346.30" x2="438.70" y2="346.30" stroke="#000" stroke-width="0.9" />
<text transform="translate(432.80 348.40)" font-size="6.0" text-anchor="end" >0</text>
<line x1="436.10" y1="316.85" x2="438.70" y2="316.85" stroke="#000" stroke-width="0.9" />
<text transform="translate(432.80 318.95)" font-size="6.0" text-anchor="end" >1</text>
<line x1="436.10" y1="287.40" x2="438.70" y2="287.40" stroke="#000" stroke-width="0.9" />
<text transform="translate(432.80 289.50)" font-size="6.0" text-anchor="end" >2</text>
<line x1="436.10" y1="257.95" x2="438.70" y2="257.95" stroke="#000" stroke-width="0.9" />
<text transform="translate(432.80 260.05)" font-size="6.0" text-anchor="end" >3</text>
<line x1="438.20" y1="351.20" x2="500.90" y2="351.20" stroke="#000" stroke-width="1.3" />
<line x1="455.70" y1="351.20" x2="455.70" y2="353.60" stroke="#000" stroke-width="0.9" />
<text transform="translate(455.70 362.20)" font-size="6.4" text-anchor="middle" >CR</text>
<line x1="483.90" y1="351.20" x2="483.90" y2="353.60" stroke="#000" stroke-width="0.9" />
<text transform="translate(483.90 362.20)" font-size="6.4" text-anchor="middle" >PD</text>
<text transform="translate(451.60 249.00) scale(1.0553 1)" font-size="7.9" >BM CD8</text>
<text transform="translate(483.40 246.40)" font-size="5.2" >+</text>
<path d="M442.80,346.60 Q449.25,345.12 455.10,341.30 L455.30,339.30 L455.50,273.50 L455.90,273.50 L456.10,339.30 L456.30,341.30 Q462.15,345.12 468.60,346.60 Z" fill="#3a6676" stroke="#222" stroke-width="0.7" stroke-linejoin="round"/>
<path d="M474.40,346.60 Q479.15,343.86 483.30,340.50 L483.50,338.50 L483.70,273.50 L484.10,273.50 L484.30,338.50 L484.50,340.50 Q488.65,343.86 493.40,346.60 Z" fill="#e4e4e4" stroke="#222" stroke-width="0.7" stroke-linejoin="round"/>
<circle cx="455.70" cy="342.40" r="1.8" fill="#d8245a"/>
<circle cx="483.90" cy="343.60" r="1.8" fill="#e4285e"/>
<line x1="455.60" y1="269.30" x2="484.00" y2="269.30" stroke="#000" stroke-width="0.9" />
<line x1="455.60" y1="268.90" x2="455.60" y2="271.80" stroke="#000" stroke-width="0.9" />
<line x1="484.00" y1="268.90" x2="484.00" y2="271.80" stroke="#000" stroke-width="0.9" />
<text transform="translate(469.80 269.90)" font-size="6.4" text-anchor="middle" >***</text>
<rect x="0.5" y="0.5" width="519" height="401" fill="none" stroke="#3e3e3e" stroke-width="1"/>
<line x1="0" y1="400.5" x2="520" y2="400.5" stroke="#777" stroke-width="0.6"/>
<line x1="518.7" y1="0" x2="518.7" y2="402" stroke="#888" stroke-width="0.5"/>
</svg>
</body></html>
